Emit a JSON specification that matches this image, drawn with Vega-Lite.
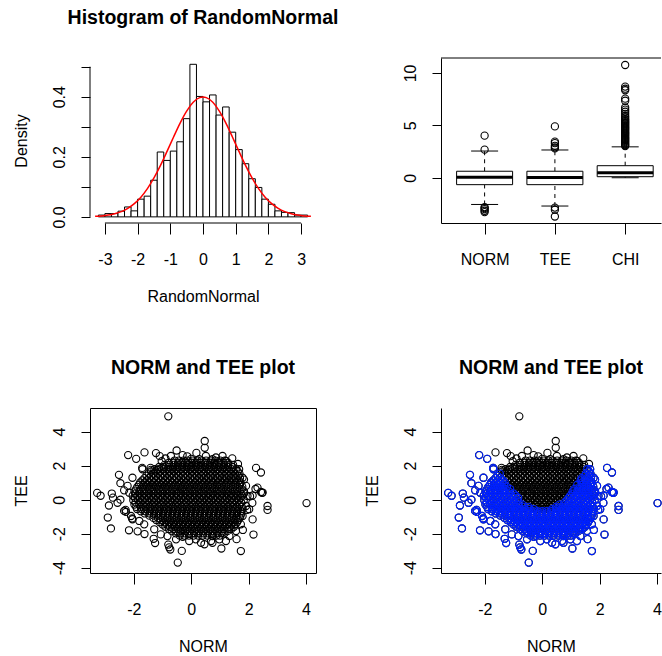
{
"$schema": "https://vega.github.io/schema/vega-lite/v6.json",
"background": "white",
"padding": {"left": 12, "top": 7, "right": 0, "bottom": 0},
"columns": 2,
"bounds": "flush",
"spacing": {"row": 185, "column": 125},
"config": {
 "font": "Liberation Sans",
 "view": {"stroke": null},
 "axis": {"labelFont": "Liberation Sans", "labelFontSize": 16, "labelColor": "#000", "tickColor": "#000", "domainColor": "#000", "titleFont": "Liberation Sans", "titleFontSize": 16, "titleFontWeight": "normal", "titleColor": "#000", "grid": false, "tickWidth": 1, "domainWidth": 1, "labelOverlap": false, "labelFlush": false},
 "axisX": {"tickSize": 11, "labelPadding": 17, "labelAngle": 0, "titleY": 78, "titleBaseline": "alphabetic", "labelOverlap": false},
 "axisY": {"tickSize": 9, "labelPadding": 17, "labelAngle": 270, "labelAlign": "center", "labelBaseline": "alphabetic", "titleX": -69, "titleBaseline": "middle", "titleAngle": 270, "labelOverlap": false},
 "title": {"font": "Liberation Sans", "fontSize": 19.5, "fontWeight": "bold", "color": "#000", "offset": 30, "baseline": "alphabetic", "anchor": "middle", "frame": "group"}
},
"datasets": {
 "hist": [
  {"bin_start": -3.2, "bin_end": -3.0, "density": 0.006},
  {"bin_start": -3.0, "bin_end": -2.8, "density": 0.011},
  {"bin_start": -2.8, "bin_end": -2.6, "density": 0.011},
  {"bin_start": -2.6, "bin_end": -2.4, "density": 0.019},
  {"bin_start": -2.4, "bin_end": -2.2, "density": 0.033},
  {"bin_start": -2.2, "bin_end": -2.0, "density": 0.020},
  {"bin_start": -2.0, "bin_end": -1.8, "density": 0.059},
  {"bin_start": -1.8, "bin_end": -1.6, "density": 0.069},
  {"bin_start": -1.6, "bin_end": -1.4, "density": 0.122},
  {"bin_start": -1.4, "bin_end": -1.2, "density": 0.216},
  {"bin_start": -1.2, "bin_end": -1.0, "density": 0.188},
  {"bin_start": -1.0, "bin_end": -0.8, "density": 0.219},
  {"bin_start": -0.8, "bin_end": -0.6, "density": 0.250},
  {"bin_start": -0.6, "bin_end": -0.4, "density": 0.327},
  {"bin_start": -0.4, "bin_end": -0.2, "density": 0.508},
  {"bin_start": -0.2, "bin_end": 0.0, "density": 0.401},
  {"bin_start": 0.0, "bin_end": 0.2, "density": 0.383},
  {"bin_start": 0.2, "bin_end": 0.4, "density": 0.406},
  {"bin_start": 0.4, "bin_end": 0.6, "density": 0.339},
  {"bin_start": 0.6, "bin_end": 0.8, "density": 0.366},
  {"bin_start": 0.8, "bin_end": 1.0, "density": 0.282},
  {"bin_start": 1.0, "bin_end": 1.2, "density": 0.224},
  {"bin_start": 1.2, "bin_end": 1.4, "density": 0.177},
  {"bin_start": 1.4, "bin_end": 1.6, "density": 0.127},
  {"bin_start": 1.6, "bin_end": 1.8, "density": 0.098},
  {"bin_start": 1.8, "bin_end": 2.0, "density": 0.059},
  {"bin_start": 2.0, "bin_end": 2.2, "density": 0.042},
  {"bin_start": 2.2, "bin_end": 2.4, "density": 0.020},
  {"bin_start": 2.4, "bin_end": 2.6, "density": 0.015},
  {"bin_start": 2.6, "bin_end": 2.8, "density": 0.014},
  {"bin_start": 2.8, "bin_end": 3.0, "density": 0.006},
  {"bin_start": 3.0, "bin_end": 3.2, "density": 0.006}
 ],
 "curve": [
  {"x": -3.3, "density": 0.0017}, {"x": -3.1, "density": 0.0033}, {"x": -2.9, "density": 0.0060}, {"x": -2.7, "density": 0.0104},
  {"x": -2.5, "density": 0.0175}, {"x": -2.3, "density": 0.0283}, {"x": -2.1, "density": 0.0440}, {"x": -1.9, "density": 0.0656},
  {"x": -1.7, "density": 0.0940}, {"x": -1.5, "density": 0.1295}, {"x": -1.3, "density": 0.1714}, {"x": -1.1, "density": 0.2179},
  {"x": -0.9, "density": 0.2661}, {"x": -0.7, "density": 0.3123}, {"x": -0.5, "density": 0.3521}, {"x": -0.3, "density": 0.3814},
  {"x": -0.1, "density": 0.3970}, {"x": 0.0, "density": 0.3989}, {"x": 0.1, "density": 0.3970}, {"x": 0.3, "density": 0.3814},
  {"x": 0.5, "density": 0.3521}, {"x": 0.7, "density": 0.3123}, {"x": 0.9, "density": 0.2661}, {"x": 1.1, "density": 0.2179},
  {"x": 1.3, "density": 0.1714}, {"x": 1.5, "density": 0.1295}, {"x": 1.7, "density": 0.0940}, {"x": 1.9, "density": 0.0656},
  {"x": 2.1, "density": 0.0440}, {"x": 2.3, "density": 0.0283}, {"x": 2.5, "density": 0.0175}, {"x": 2.7, "density": 0.0104},
  {"x": 2.9, "density": 0.0060}, {"x": 3.1, "density": 0.0033}, {"x": 3.3, "density": 0.0017}
 ],
 "boxstats": [
  {"var": "NORM", "lower": -2.55, "q1": -0.66, "median": 0.04, "q3": 0.62, "upper": 2.55},
  {"var": "TEE", "lower": -2.7, "q1": -0.66, "median": 0.03, "q3": 0.62, "upper": 2.65},
  {"var": "CHI", "lower": 0.0, "q1": 0.1, "median": 0.47, "q3": 1.15, "upper": 2.95}
 ],
 "outliers": [
  {"var": "NORM", "value": 4.02}, {"var": "NORM", "value": 2.68}, {"var": "NORM", "value": -2.8}, {"var": "NORM", "value": -2.9},
  {"var": "NORM", "value": -3.0}, {"var": "NORM", "value": -3.15}, {"var": "NORM", "value": -3.28},
  {"var": "TEE", "value": 4.9}, {"var": "TEE", "value": 3.45}, {"var": "TEE", "value": 3.3}, {"var": "TEE", "value": 3.05},
  {"var": "TEE", "value": 2.9}, {"var": "TEE", "value": 2.8}, {"var": "TEE", "value": -2.85}, {"var": "TEE", "value": -3.05}, {"var": "TEE", "value": -3.7},
  {"var": "CHI", "value": 10.76}, {"var": "CHI", "value": 8.7}, {"var": "CHI", "value": 8.5}, {"var": "CHI", "value": 8.35},
  {"var": "CHI", "value": 7.55}, {"var": "CHI", "value": 7.35}, {"var": "CHI", "value": 6.7}, {"var": "CHI", "value": 6.5},
  {"var": "CHI", "value": 6.3}, {"var": "CHI", "value": 6.1}, {"var": "CHI", "value": 5.9}, {"var": "CHI", "value": 5.75},
  {"var": "CHI", "value": 5.6}, {"var": "CHI", "value": 5.5}, {"var": "CHI", "value": 5.4}, {"var": "CHI", "value": 5.3},
  {"var": "CHI", "value": 5.2}, {"var": "CHI", "value": 5.1}, {"var": "CHI", "value": 5.0}, {"var": "CHI", "value": 4.9},
  {"var": "CHI", "value": 4.8}, {"var": "CHI", "value": 4.7}, {"var": "CHI", "value": 4.6}, {"var": "CHI", "value": 4.5},
  {"var": "CHI", "value": 4.4}, {"var": "CHI", "value": 4.3}, {"var": "CHI", "value": 4.2}, {"var": "CHI", "value": 4.1},
  {"var": "CHI", "value": 4.0}, {"var": "CHI", "value": 3.9}, {"var": "CHI", "value": 3.8}, {"var": "CHI", "value": 3.7},
  {"var": "CHI", "value": 3.6}, {"var": "CHI", "value": 3.5}, {"var": "CHI", "value": 3.4}, {"var": "CHI", "value": 3.3},
  {"var": "CHI", "value": 3.2}, {"var": "CHI", "value": 3.1}, {"var": "CHI", "value": 3.02}
 ],
 "scatter": [
  {"NORM":-0.80,"TEE":4.90},{"NORM":0.47,"TEE":3.45},{"NORM":0.47,"TEE":3.05},{"NORM":-2.20,"TEE":2.62},{"NORM":-1.92,"TEE":2.40},
  {"NORM":-1.63,"TEE":2.78},{"NORM":-1.23,"TEE":2.74},{"NORM":-1.10,"TEE":2.56},{"NORM":-1.03,"TEE":2.26},{"NORM":-0.71,"TEE":2.57},
  {"NORM":-0.51,"TEE":2.89},{"NORM":0.18,"TEE":2.75},{"NORM":0.86,"TEE":2.48},{"NORM":1.43,"TEE":2.43},{"NORM":1.63,"TEE":2.10},
  {"NORM":2.26,"TEE":1.87},{"NORM":2.43,"TEE":1.60},{"NORM":-2.52,"TEE":1.46},{"NORM":-2.47,"TEE":0.97},{"NORM":-3.28,"TEE":0.40},
  {"NORM":-3.16,"TEE":0.23},{"NORM":-2.77,"TEE":0.36},{"NORM":-2.73,"TEE":0.12},{"NORM":-2.87,"TEE":-0.34},{"NORM":-2.91,"TEE":-1.05},
  {"NORM":-2.80,"TEE":-1.69},{"NORM":-2.17,"TEE":-1.80},{"NORM":-1.87,"TEE":-1.86},{"NORM":-1.63,"TEE":-2.02},{"NORM":-1.31,"TEE":-2.30},
  {"NORM":-1.26,"TEE":-2.55},{"NORM":-0.80,"TEE":-2.64},{"NORM":-0.73,"TEE":-2.93},{"NORM":-0.77,"TEE":-2.80},{"NORM":-0.33,"TEE":-3.01},
  {"NORM":-0.47,"TEE":-3.70},{"NORM":0.46,"TEE":-2.62},{"NORM":0.74,"TEE":-2.53},{"NORM":0.74,"TEE":-2.14},{"NORM":1.05,"TEE":-2.87},
  {"NORM":1.21,"TEE":-2.43},{"NORM":1.58,"TEE":-2.32},{"NORM":1.73,"TEE":-3.02},{"NORM":1.80,"TEE":-1.78},{"NORM":2.17,"TEE":-2.05},
  {"NORM":2.14,"TEE":-1.16},{"NORM":2.66,"TEE":-0.37},{"NORM":2.66,"TEE":-0.60},{"NORM":2.43,"TEE":0.45},{"NORM":2.49,"TEE":0.42},
  {"NORM":2.47,"TEE":0.40},{"NORM":2.31,"TEE":0.71},{"NORM":2.24,"TEE":0.63},{"NORM":2.14,"TEE":0.25},{"NORM":2.05,"TEE":0.20},
  {"NORM":2.13,"TEE":-0.19},{"NORM":2.02,"TEE":-0.56},{"NORM":1.95,"TEE":-0.60},{"NORM":4.02,"TEE":-0.20},{"NORM":-2.47,"TEE":0.00},
  {"NORM":-2.29,"TEE":-0.60},{"NORM":-2.06,"TEE":-1.10},{"NORM":-1.71,"TEE":1.87},{"NORM":-1.42,"TEE":1.87},{"NORM":-1.19,"TEE":1.76},
  {"NORM":-0.14,"TEE":2.55},{"NORM":1.84,"TEE":1.18},{"NORM":-2.34,"TEE":0.55},{"NORM":-2.28,"TEE":-0.72},{"NORM":-2.05,"TEE":-1.15},
  {"NORM":-1.70,"TEE":1.79},{"NORM":-1.41,"TEE":1.75},{"NORM":-2.05,"TEE":1.29},{"NORM":-2.22,"TEE":0.81},{"NORM":-2.16,"TEE":0.41},
  {"NORM":-2.57,"TEE":-0.18},{"NORM":-2.34,"TEE":-0.66},{"NORM":-2.10,"TEE":-0.96},{"NORM":-1.81,"TEE":-1.25},{"NORM":-1.64,"TEE":-1.45},
  {"NORM":-1.29,"TEE":-1.74},{"NORM":-1.06,"TEE":-2.04},{"NORM":-0.83,"TEE":-2.14},{"NORM":-0.53,"TEE":-2.33},{"NORM":-0.30,"TEE":-2.18},
  {"NORM":-0.07,"TEE":-2.43},{"NORM":0.16,"TEE":-2.33},{"NORM":1.09,"TEE":2.57},{"NORM":1.21,"TEE":2.28},{"NORM":1.67,"TEE":1.79},
  {"NORM":1.79,"TEE":1.29},{"NORM":1.91,"TEE":0.81},{"NORM":1.96,"TEE":0.22},{"NORM":1.91,"TEE":-0.37},{"NORM":1.79,"TEE":-0.96},
  {"NORM":1.73,"TEE":-1.45},{"NORM":1.56,"TEE":-1.84},{"NORM":1.33,"TEE":-2.14},{"NORM":0.98,"TEE":-2.33},{"NORM":0.69,"TEE":-2.43},
  {"NORM":0.34,"TEE":-2.53},{"NORM":0.51,"TEE":2.57},{"NORM":0.74,"TEE":2.38},{"NORM":0.28,"TEE":2.38},{"NORM":-0.30,"TEE":2.62},
  {"NORM":-0.90,"TEE":2.42},{"NORM":0.00,"TEE":2.40},
  {"NORM":-0.58,"TEE":2.30},{"NORM":-0.43,"TEE":2.30},{"NORM":-0.27,"TEE":2.30},{"NORM":-0.12,"TEE":2.30},{"NORM":0.05,"TEE":2.30},{"NORM":0.21,"TEE":2.30},{"NORM":0.36,"TEE":2.30},{"NORM":0.52,"TEE":2.30},{"NORM":0.69,"TEE":2.30},{"NORM":0.84,"TEE":2.30},{"NORM":1.01,"TEE":2.30},{"NORM":1.17,"TEE":2.30},
  {"NORM":-0.78,"TEE":2.17},{"NORM":-0.62,"TEE":2.17},{"NORM":-0.46,"TEE":2.17},{"NORM":-0.31,"TEE":2.17},{"NORM":-0.15,"TEE":2.17},{"NORM":0.01,"TEE":2.17},{"NORM":0.17,"TEE":2.17},{"NORM":0.33,"TEE":2.17},{"NORM":0.49,"TEE":2.17},{"NORM":0.65,"TEE":2.17},{"NORM":0.80,"TEE":2.17},{"NORM":0.96,"TEE":2.17},{"NORM":1.12,"TEE":2.17},{"NORM":1.28,"TEE":2.17},
  {"NORM":-0.93,"TEE":2.05},{"NORM":-0.78,"TEE":2.05},{"NORM":-0.61,"TEE":2.05},{"NORM":-0.46,"TEE":2.05},{"NORM":-0.30,"TEE":2.05},{"NORM":-0.13,"TEE":2.05},{"NORM":0.02,"TEE":2.05},{"NORM":0.18,"TEE":2.05},{"NORM":0.34,"TEE":2.05},{"NORM":0.50,"TEE":2.05},{"NORM":0.65,"TEE":2.05},{"NORM":0.82,"TEE":2.05},{"NORM":0.97,"TEE":2.05},{"NORM":1.14,"TEE":2.05},{"NORM":1.29,"TEE":2.05},{"NORM":1.46,"TEE":2.05},
  {"NORM":-1.12,"TEE":1.92},{"NORM":-0.96,"TEE":1.92},{"NORM":-0.80,"TEE":1.92},{"NORM":-0.64,"TEE":1.92},{"NORM":-0.48,"TEE":1.92},{"NORM":-0.32,"TEE":1.92},{"NORM":-0.16,"TEE":1.92},{"NORM":0.00,"TEE":1.92},{"NORM":0.16,"TEE":1.92},{"NORM":0.32,"TEE":1.92},{"NORM":0.48,"TEE":1.92},{"NORM":0.64,"TEE":1.92},{"NORM":0.80,"TEE":1.92},{"NORM":0.96,"TEE":1.92},{"NORM":1.12,"TEE":1.92},{"NORM":1.28,"TEE":1.92},{"NORM":1.44,"TEE":1.92},
  {"NORM":-1.28,"TEE":1.79},{"NORM":-1.12,"TEE":1.79},{"NORM":-0.96,"TEE":1.79},{"NORM":-0.80,"TEE":1.79},{"NORM":-0.64,"TEE":1.79},{"NORM":-0.49,"TEE":1.79},{"NORM":-0.33,"TEE":1.79},{"NORM":-0.17,"TEE":1.79},{"NORM":-0.01,"TEE":1.79},{"NORM":0.14,"TEE":1.79},{"NORM":0.30,"TEE":1.79},{"NORM":0.46,"TEE":1.79},{"NORM":0.62,"TEE":1.79},{"NORM":0.78,"TEE":1.79},{"NORM":0.93,"TEE":1.79},{"NORM":1.10,"TEE":1.79},{"NORM":1.25,"TEE":1.79},{"NORM":1.41,"TEE":1.79},{"NORM":1.57,"TEE":1.79},
  {"NORM":-1.40,"TEE":1.66},{"NORM":-1.24,"TEE":1.66},{"NORM":-1.08,"TEE":1.66},{"NORM":-0.92,"TEE":1.66},{"NORM":-0.76,"TEE":1.66},{"NORM":-0.60,"TEE":1.66},{"NORM":-0.44,"TEE":1.66},{"NORM":-0.28,"TEE":1.66},{"NORM":-0.12,"TEE":1.66},{"NORM":0.04,"TEE":1.66},{"NORM":0.20,"TEE":1.66},{"NORM":0.36,"TEE":1.66},{"NORM":0.52,"TEE":1.66},{"NORM":0.68,"TEE":1.66},{"NORM":0.84,"TEE":1.66},{"NORM":1.00,"TEE":1.66},{"NORM":1.16,"TEE":1.66},{"NORM":1.32,"TEE":1.66},{"NORM":1.48,"TEE":1.66},{"NORM":1.62,"TEE":1.66},
  {"NORM":-1.48,"TEE":1.53},{"NORM":-1.32,"TEE":1.53},{"NORM":-1.17,"TEE":1.53},{"NORM":-1.01,"TEE":1.53},{"NORM":-0.85,"TEE":1.53},{"NORM":-0.70,"TEE":1.53},{"NORM":-0.53,"TEE":1.53},{"NORM":-0.38,"TEE":1.53},{"NORM":-0.22,"TEE":1.53},{"NORM":-0.06,"TEE":1.53},{"NORM":0.10,"TEE":1.53},{"NORM":0.25,"TEE":1.53},{"NORM":0.41,"TEE":1.53},{"NORM":0.57,"TEE":1.53},{"NORM":0.73,"TEE":1.53},{"NORM":0.88,"TEE":1.53},{"NORM":1.05,"TEE":1.53},{"NORM":1.20,"TEE":1.53},{"NORM":1.36,"TEE":1.53},{"NORM":1.52,"TEE":1.53},{"NORM":1.68,"TEE":1.53},
  {"NORM":-1.56,"TEE":1.40},{"NORM":-1.40,"TEE":1.40},{"NORM":-1.24,"TEE":1.40},{"NORM":-1.08,"TEE":1.40},{"NORM":-0.92,"TEE":1.40},{"NORM":-0.76,"TEE":1.40},{"NORM":-0.60,"TEE":1.40},{"NORM":-0.44,"TEE":1.40},{"NORM":-0.28,"TEE":1.40},{"NORM":-0.12,"TEE":1.40},{"NORM":0.04,"TEE":1.40},{"NORM":0.20,"TEE":1.40},{"NORM":0.36,"TEE":1.40},{"NORM":0.52,"TEE":1.40},{"NORM":0.68,"TEE":1.40},{"NORM":0.84,"TEE":1.40},{"NORM":1.00,"TEE":1.40},{"NORM":1.16,"TEE":1.40},{"NORM":1.32,"TEE":1.40},{"NORM":1.48,"TEE":1.40},{"NORM":1.64,"TEE":1.40},
  {"NORM":-1.63,"TEE":1.27},{"NORM":-1.47,"TEE":1.27},{"NORM":-1.30,"TEE":1.27},{"NORM":-1.15,"TEE":1.27},{"NORM":-0.99,"TEE":1.27},{"NORM":-0.83,"TEE":1.27},{"NORM":-0.67,"TEE":1.27},{"NORM":-0.51,"TEE":1.27},{"NORM":-0.36,"TEE":1.27},{"NORM":-0.20,"TEE":1.27},{"NORM":-0.04,"TEE":1.27},{"NORM":0.12,"TEE":1.27},{"NORM":0.27,"TEE":1.27},{"NORM":0.44,"TEE":1.27},{"NORM":0.59,"TEE":1.27},{"NORM":0.75,"TEE":1.27},{"NORM":0.91,"TEE":1.27},{"NORM":1.07,"TEE":1.27},{"NORM":1.22,"TEE":1.27},{"NORM":1.38,"TEE":1.27},{"NORM":1.54,"TEE":1.27},{"NORM":1.70,"TEE":1.27},
  {"NORM":-1.70,"TEE":1.14},{"NORM":-1.54,"TEE":1.14},{"NORM":-1.38,"TEE":1.14},{"NORM":-1.22,"TEE":1.14},{"NORM":-1.06,"TEE":1.14},{"NORM":-0.90,"TEE":1.14},{"NORM":-0.74,"TEE":1.14},{"NORM":-0.58,"TEE":1.14},{"NORM":-0.42,"TEE":1.14},{"NORM":-0.26,"TEE":1.14},{"NORM":-0.10,"TEE":1.14},{"NORM":0.06,"TEE":1.14},{"NORM":0.22,"TEE":1.14},{"NORM":0.38,"TEE":1.14},{"NORM":0.54,"TEE":1.14},{"NORM":0.70,"TEE":1.14},{"NORM":0.86,"TEE":1.14},{"NORM":1.02,"TEE":1.14},{"NORM":1.18,"TEE":1.14},{"NORM":1.34,"TEE":1.14},{"NORM":1.50,"TEE":1.14},{"NORM":1.66,"TEE":1.14},
  {"NORM":-1.78,"TEE":1.01},{"NORM":-1.62,"TEE":1.01},{"NORM":-1.46,"TEE":1.01},{"NORM":-1.31,"TEE":1.01},{"NORM":-1.14,"TEE":1.01},{"NORM":-0.98,"TEE":1.01},{"NORM":-0.82,"TEE":1.01},{"NORM":-0.67,"TEE":1.01},{"NORM":-0.50,"TEE":1.01},{"NORM":-0.35,"TEE":1.01},{"NORM":-0.19,"TEE":1.01},{"NORM":-0.03,"TEE":1.01},{"NORM":0.13,"TEE":1.01},{"NORM":0.29,"TEE":1.01},{"NORM":0.45,"TEE":1.01},{"NORM":0.60,"TEE":1.01},{"NORM":0.76,"TEE":1.01},{"NORM":0.92,"TEE":1.01},{"NORM":1.08,"TEE":1.01},{"NORM":1.24,"TEE":1.01},{"NORM":1.39,"TEE":1.01},{"NORM":1.55,"TEE":1.01},{"NORM":1.71,"TEE":1.01},
  {"NORM":-1.82,"TEE":0.88},{"NORM":-1.66,"TEE":0.88},{"NORM":-1.50,"TEE":0.88},{"NORM":-1.34,"TEE":0.88},{"NORM":-1.18,"TEE":0.88},{"NORM":-1.02,"TEE":0.88},{"NORM":-0.86,"TEE":0.88},{"NORM":-0.70,"TEE":0.88},{"NORM":-0.54,"TEE":0.88},{"NORM":-0.38,"TEE":0.88},{"NORM":-0.22,"TEE":0.88},{"NORM":-0.06,"TEE":0.88},{"NORM":0.10,"TEE":0.88},{"NORM":0.26,"TEE":0.88},{"NORM":0.42,"TEE":0.88},{"NORM":0.58,"TEE":0.88},{"NORM":0.74,"TEE":0.88},{"NORM":0.90,"TEE":0.88},{"NORM":1.06,"TEE":0.88},{"NORM":1.22,"TEE":0.88},{"NORM":1.38,"TEE":0.88},{"NORM":1.54,"TEE":0.88},{"NORM":1.70,"TEE":0.88},
  {"NORM":-1.88,"TEE":0.75},{"NORM":-1.71,"TEE":0.75},{"NORM":-1.55,"TEE":0.75},{"NORM":-1.39,"TEE":0.75},{"NORM":-1.23,"TEE":0.75},{"NORM":-1.07,"TEE":0.75},{"NORM":-0.91,"TEE":0.75},{"NORM":-0.76,"TEE":0.75},{"NORM":-0.59,"TEE":0.75},{"NORM":-0.44,"TEE":0.75},{"NORM":-0.28,"TEE":0.75},{"NORM":-0.12,"TEE":0.75},{"NORM":0.04,"TEE":0.75},{"NORM":0.20,"TEE":0.75},{"NORM":0.35,"TEE":0.75},{"NORM":0.51,"TEE":0.75},{"NORM":0.67,"TEE":0.75},{"NORM":0.83,"TEE":0.75},{"NORM":0.99,"TEE":0.75},{"NORM":1.15,"TEE":0.75},{"NORM":1.30,"TEE":0.75},{"NORM":1.46,"TEE":0.75},{"NORM":1.62,"TEE":0.75},{"NORM":1.78,"TEE":0.75},
  {"NORM":-1.92,"TEE":0.62},{"NORM":-1.76,"TEE":0.62},{"NORM":-1.60,"TEE":0.62},{"NORM":-1.44,"TEE":0.62},{"NORM":-1.28,"TEE":0.62},{"NORM":-1.12,"TEE":0.62},{"NORM":-0.96,"TEE":0.62},{"NORM":-0.80,"TEE":0.62},{"NORM":-0.64,"TEE":0.62},{"NORM":-0.48,"TEE":0.62},{"NORM":-0.32,"TEE":0.62},{"NORM":-0.16,"TEE":0.62},{"NORM":0.00,"TEE":0.62},{"NORM":0.16,"TEE":0.62},{"NORM":0.32,"TEE":0.62},{"NORM":0.48,"TEE":0.62},{"NORM":0.64,"TEE":0.62},{"NORM":0.80,"TEE":0.62},{"NORM":0.96,"TEE":0.62},{"NORM":1.12,"TEE":0.62},{"NORM":1.28,"TEE":0.62},{"NORM":1.44,"TEE":0.62},{"NORM":1.60,"TEE":0.62},{"NORM":1.76,"TEE":0.62},
  {"NORM":-1.98,"TEE":0.49},{"NORM":-1.81,"TEE":0.49},{"NORM":-1.64,"TEE":0.49},{"NORM":-1.48,"TEE":0.49},{"NORM":-1.32,"TEE":0.49},{"NORM":-1.16,"TEE":0.49},{"NORM":-1.00,"TEE":0.49},{"NORM":-0.84,"TEE":0.49},{"NORM":-0.68,"TEE":0.49},{"NORM":-0.52,"TEE":0.49},{"NORM":-0.37,"TEE":0.49},{"NORM":-0.21,"TEE":0.49},{"NORM":-0.05,"TEE":0.49},{"NORM":0.11,"TEE":0.49},{"NORM":0.27,"TEE":0.49},{"NORM":0.43,"TEE":0.49},{"NORM":0.58,"TEE":0.49},{"NORM":0.74,"TEE":0.49},{"NORM":0.90,"TEE":0.49},{"NORM":1.06,"TEE":0.49},{"NORM":1.22,"TEE":0.49},{"NORM":1.37,"TEE":0.49},{"NORM":1.53,"TEE":0.49},{"NORM":1.69,"TEE":0.49},{"NORM":1.84,"TEE":0.49},
  {"NORM":-1.96,"TEE":0.36},{"NORM":-1.80,"TEE":0.36},{"NORM":-1.64,"TEE":0.36},{"NORM":-1.48,"TEE":0.36},{"NORM":-1.32,"TEE":0.36},{"NORM":-1.16,"TEE":0.36},{"NORM":-1.00,"TEE":0.36},{"NORM":-0.84,"TEE":0.36},{"NORM":-0.68,"TEE":0.36},{"NORM":-0.52,"TEE":0.36},{"NORM":-0.36,"TEE":0.36},{"NORM":-0.20,"TEE":0.36},{"NORM":-0.04,"TEE":0.36},{"NORM":0.12,"TEE":0.36},{"NORM":0.28,"TEE":0.36},{"NORM":0.44,"TEE":0.36},{"NORM":0.60,"TEE":0.36},{"NORM":0.76,"TEE":0.36},{"NORM":0.92,"TEE":0.36},{"NORM":1.08,"TEE":0.36},{"NORM":1.24,"TEE":0.36},{"NORM":1.40,"TEE":0.36},{"NORM":1.56,"TEE":0.36},{"NORM":1.72,"TEE":0.36},{"NORM":1.84,"TEE":0.36},
  {"NORM":-2.04,"TEE":0.23},{"NORM":-1.88,"TEE":0.23},{"NORM":-1.72,"TEE":0.23},{"NORM":-1.56,"TEE":0.23},{"NORM":-1.40,"TEE":0.23},{"NORM":-1.24,"TEE":0.23},{"NORM":-1.08,"TEE":0.23},{"NORM":-0.92,"TEE":0.23},{"NORM":-0.76,"TEE":0.23},{"NORM":-0.60,"TEE":0.23},{"NORM":-0.45,"TEE":0.23},{"NORM":-0.29,"TEE":0.23},{"NORM":-0.13,"TEE":0.23},{"NORM":0.03,"TEE":0.23},{"NORM":0.19,"TEE":0.23},{"NORM":0.35,"TEE":0.23},{"NORM":0.51,"TEE":0.23},{"NORM":0.66,"TEE":0.23},{"NORM":0.82,"TEE":0.23},{"NORM":0.98,"TEE":0.23},{"NORM":1.14,"TEE":0.23},{"NORM":1.30,"TEE":0.23},{"NORM":1.45,"TEE":0.23},{"NORM":1.61,"TEE":0.23},{"NORM":1.77,"TEE":0.23},
  {"NORM":-1.96,"TEE":0.10},{"NORM":-1.80,"TEE":0.10},{"NORM":-1.64,"TEE":0.10},{"NORM":-1.48,"TEE":0.10},{"NORM":-1.32,"TEE":0.10},{"NORM":-1.16,"TEE":0.10},{"NORM":-1.00,"TEE":0.10},{"NORM":-0.84,"TEE":0.10},{"NORM":-0.68,"TEE":0.10},{"NORM":-0.52,"TEE":0.10},{"NORM":-0.36,"TEE":0.10},{"NORM":-0.20,"TEE":0.10},{"NORM":-0.04,"TEE":0.10},{"NORM":0.12,"TEE":0.10},{"NORM":0.28,"TEE":0.10},{"NORM":0.44,"TEE":0.10},{"NORM":0.60,"TEE":0.10},{"NORM":0.76,"TEE":0.10},{"NORM":0.92,"TEE":0.10},{"NORM":1.08,"TEE":0.10},{"NORM":1.24,"TEE":0.10},{"NORM":1.40,"TEE":0.10},{"NORM":1.56,"TEE":0.10},{"NORM":1.72,"TEE":0.10},
  {"NORM":-2.02,"TEE":-0.03},{"NORM":-1.85,"TEE":-0.03},{"NORM":-1.69,"TEE":-0.03},{"NORM":-1.53,"TEE":-0.03},{"NORM":-1.37,"TEE":-0.03},{"NORM":-1.21,"TEE":-0.03},{"NORM":-1.05,"TEE":-0.03},{"NORM":-0.89,"TEE":-0.03},{"NORM":-0.73,"TEE":-0.03},{"NORM":-0.57,"TEE":-0.03},{"NORM":-0.41,"TEE":-0.03},{"NORM":-0.25,"TEE":-0.03},{"NORM":-0.09,"TEE":-0.03},{"NORM":0.07,"TEE":-0.03},{"NORM":0.23,"TEE":-0.03},{"NORM":0.39,"TEE":-0.03},{"NORM":0.55,"TEE":-0.03},{"NORM":0.70,"TEE":-0.03},{"NORM":0.86,"TEE":-0.03},{"NORM":1.02,"TEE":-0.03},{"NORM":1.18,"TEE":-0.03},{"NORM":1.34,"TEE":-0.03},{"NORM":1.50,"TEE":-0.03},{"NORM":1.66,"TEE":-0.03},{"NORM":1.83,"TEE":-0.03},
  {"NORM":-1.94,"TEE":-0.16},{"NORM":-1.78,"TEE":-0.16},{"NORM":-1.62,"TEE":-0.16},{"NORM":-1.46,"TEE":-0.16},{"NORM":-1.30,"TEE":-0.16},{"NORM":-1.14,"TEE":-0.16},{"NORM":-0.98,"TEE":-0.16},{"NORM":-0.82,"TEE":-0.16},{"NORM":-0.66,"TEE":-0.16},{"NORM":-0.50,"TEE":-0.16},{"NORM":-0.34,"TEE":-0.16},{"NORM":-0.18,"TEE":-0.16},{"NORM":-0.02,"TEE":-0.16},{"NORM":0.14,"TEE":-0.16},{"NORM":0.30,"TEE":-0.16},{"NORM":0.46,"TEE":-0.16},{"NORM":0.62,"TEE":-0.16},{"NORM":0.78,"TEE":-0.16},{"NORM":0.94,"TEE":-0.16},{"NORM":1.10,"TEE":-0.16},{"NORM":1.26,"TEE":-0.16},{"NORM":1.42,"TEE":-0.16},{"NORM":1.58,"TEE":-0.16},{"NORM":1.74,"TEE":-0.16},
  {"NORM":-1.98,"TEE":-0.29},{"NORM":-1.81,"TEE":-0.29},{"NORM":-1.65,"TEE":-0.29},{"NORM":-1.49,"TEE":-0.29},{"NORM":-1.33,"TEE":-0.29},{"NORM":-1.17,"TEE":-0.29},{"NORM":-1.01,"TEE":-0.29},{"NORM":-0.85,"TEE":-0.29},{"NORM":-0.69,"TEE":-0.29},{"NORM":-0.53,"TEE":-0.29},{"NORM":-0.37,"TEE":-0.29},{"NORM":-0.21,"TEE":-0.29},{"NORM":-0.05,"TEE":-0.29},{"NORM":0.11,"TEE":-0.29},{"NORM":0.27,"TEE":-0.29},{"NORM":0.43,"TEE":-0.29},{"NORM":0.59,"TEE":-0.29},{"NORM":0.75,"TEE":-0.29},{"NORM":0.91,"TEE":-0.29},{"NORM":1.07,"TEE":-0.29},{"NORM":1.23,"TEE":-0.29},{"NORM":1.38,"TEE":-0.29},{"NORM":1.54,"TEE":-0.29},{"NORM":1.70,"TEE":-0.29},
  {"NORM":-1.92,"TEE":-0.42},{"NORM":-1.76,"TEE":-0.42},{"NORM":-1.60,"TEE":-0.42},{"NORM":-1.44,"TEE":-0.42},{"NORM":-1.28,"TEE":-0.42},{"NORM":-1.12,"TEE":-0.42},{"NORM":-0.96,"TEE":-0.42},{"NORM":-0.80,"TEE":-0.42},{"NORM":-0.64,"TEE":-0.42},{"NORM":-0.48,"TEE":-0.42},{"NORM":-0.32,"TEE":-0.42},{"NORM":-0.16,"TEE":-0.42},{"NORM":0.00,"TEE":-0.42},{"NORM":0.16,"TEE":-0.42},{"NORM":0.32,"TEE":-0.42},{"NORM":0.48,"TEE":-0.42},{"NORM":0.64,"TEE":-0.42},{"NORM":0.80,"TEE":-0.42},{"NORM":0.96,"TEE":-0.42},{"NORM":1.12,"TEE":-0.42},{"NORM":1.28,"TEE":-0.42},{"NORM":1.44,"TEE":-0.42},{"NORM":1.60,"TEE":-0.42},{"NORM":1.76,"TEE":-0.42},
  {"NORM":-1.89,"TEE":-0.55},{"NORM":-1.73,"TEE":-0.55},{"NORM":-1.57,"TEE":-0.55},{"NORM":-1.41,"TEE":-0.55},{"NORM":-1.25,"TEE":-0.55},{"NORM":-1.09,"TEE":-0.55},{"NORM":-0.93,"TEE":-0.55},{"NORM":-0.77,"TEE":-0.55},{"NORM":-0.61,"TEE":-0.55},{"NORM":-0.45,"TEE":-0.55},{"NORM":-0.29,"TEE":-0.55},{"NORM":-0.13,"TEE":-0.55},{"NORM":0.03,"TEE":-0.55},{"NORM":0.19,"TEE":-0.55},{"NORM":0.35,"TEE":-0.55},{"NORM":0.51,"TEE":-0.55},{"NORM":0.67,"TEE":-0.55},{"NORM":0.83,"TEE":-0.55},{"NORM":0.99,"TEE":-0.55},{"NORM":1.15,"TEE":-0.55},{"NORM":1.31,"TEE":-0.55},{"NORM":1.47,"TEE":-0.55},{"NORM":1.63,"TEE":-0.55},{"NORM":1.79,"TEE":-0.55},
  {"NORM":-1.76,"TEE":-0.68},{"NORM":-1.60,"TEE":-0.68},{"NORM":-1.44,"TEE":-0.68},{"NORM":-1.28,"TEE":-0.68},{"NORM":-1.12,"TEE":-0.68},{"NORM":-0.96,"TEE":-0.68},{"NORM":-0.80,"TEE":-0.68},{"NORM":-0.64,"TEE":-0.68},{"NORM":-0.48,"TEE":-0.68},{"NORM":-0.32,"TEE":-0.68},{"NORM":-0.16,"TEE":-0.68},{"NORM":0.00,"TEE":-0.68},{"NORM":0.16,"TEE":-0.68},{"NORM":0.32,"TEE":-0.68},{"NORM":0.48,"TEE":-0.68},{"NORM":0.64,"TEE":-0.68},{"NORM":0.80,"TEE":-0.68},{"NORM":0.96,"TEE":-0.68},{"NORM":1.12,"TEE":-0.68},{"NORM":1.28,"TEE":-0.68},{"NORM":1.44,"TEE":-0.68},{"NORM":1.60,"TEE":-0.68},{"NORM":1.74,"TEE":-0.68},
  {"NORM":-1.62,"TEE":-0.81},{"NORM":-1.46,"TEE":-0.81},{"NORM":-1.30,"TEE":-0.81},{"NORM":-1.14,"TEE":-0.81},{"NORM":-0.98,"TEE":-0.81},{"NORM":-0.82,"TEE":-0.81},{"NORM":-0.66,"TEE":-0.81},{"NORM":-0.50,"TEE":-0.81},{"NORM":-0.34,"TEE":-0.81},{"NORM":-0.18,"TEE":-0.81},{"NORM":-0.02,"TEE":-0.81},{"NORM":0.14,"TEE":-0.81},{"NORM":0.30,"TEE":-0.81},{"NORM":0.46,"TEE":-0.81},{"NORM":0.62,"TEE":-0.81},{"NORM":0.78,"TEE":-0.81},{"NORM":0.94,"TEE":-0.81},{"NORM":1.10,"TEE":-0.81},{"NORM":1.26,"TEE":-0.81},{"NORM":1.42,"TEE":-0.81},{"NORM":1.58,"TEE":-0.81},{"NORM":1.74,"TEE":-0.81},
  {"NORM":-1.46,"TEE":-0.94},{"NORM":-1.30,"TEE":-0.94},{"NORM":-1.14,"TEE":-0.94},{"NORM":-0.98,"TEE":-0.94},{"NORM":-0.82,"TEE":-0.94},{"NORM":-0.66,"TEE":-0.94},{"NORM":-0.50,"TEE":-0.94},{"NORM":-0.34,"TEE":-0.94},{"NORM":-0.18,"TEE":-0.94},{"NORM":-0.02,"TEE":-0.94},{"NORM":0.14,"TEE":-0.94},{"NORM":0.30,"TEE":-0.94},{"NORM":0.46,"TEE":-0.94},{"NORM":0.62,"TEE":-0.94},{"NORM":0.78,"TEE":-0.94},{"NORM":0.94,"TEE":-0.94},{"NORM":1.10,"TEE":-0.94},{"NORM":1.26,"TEE":-0.94},{"NORM":1.42,"TEE":-0.94},{"NORM":1.58,"TEE":-0.94},{"NORM":1.72,"TEE":-0.94},
  {"NORM":-1.32,"TEE":-1.07},{"NORM":-1.16,"TEE":-1.07},{"NORM":-1.00,"TEE":-1.07},{"NORM":-0.84,"TEE":-1.07},{"NORM":-0.68,"TEE":-1.07},{"NORM":-0.52,"TEE":-1.07},{"NORM":-0.36,"TEE":-1.07},{"NORM":-0.20,"TEE":-1.07},{"NORM":-0.04,"TEE":-1.07},{"NORM":0.12,"TEE":-1.07},{"NORM":0.28,"TEE":-1.07},{"NORM":0.44,"TEE":-1.07},{"NORM":0.60,"TEE":-1.07},{"NORM":0.76,"TEE":-1.07},{"NORM":0.92,"TEE":-1.07},{"NORM":1.08,"TEE":-1.07},{"NORM":1.24,"TEE":-1.07},{"NORM":1.40,"TEE":-1.07},{"NORM":1.56,"TEE":-1.07},{"NORM":1.69,"TEE":-1.07},
  {"NORM":-1.22,"TEE":-1.20},{"NORM":-1.06,"TEE":-1.20},{"NORM":-0.90,"TEE":-1.20},{"NORM":-0.74,"TEE":-1.20},{"NORM":-0.58,"TEE":-1.20},{"NORM":-0.42,"TEE":-1.20},{"NORM":-0.26,"TEE":-1.20},{"NORM":-0.10,"TEE":-1.20},{"NORM":0.06,"TEE":-1.20},{"NORM":0.22,"TEE":-1.20},{"NORM":0.38,"TEE":-1.20},{"NORM":0.54,"TEE":-1.20},{"NORM":0.70,"TEE":-1.20},{"NORM":0.86,"TEE":-1.20},{"NORM":1.02,"TEE":-1.20},{"NORM":1.18,"TEE":-1.20},{"NORM":1.34,"TEE":-1.20},{"NORM":1.50,"TEE":-1.20},{"NORM":1.64,"TEE":-1.20},
  {"NORM":-1.10,"TEE":-1.33},{"NORM":-0.94,"TEE":-1.33},{"NORM":-0.78,"TEE":-1.33},{"NORM":-0.62,"TEE":-1.33},{"NORM":-0.46,"TEE":-1.33},{"NORM":-0.30,"TEE":-1.33},{"NORM":-0.14,"TEE":-1.33},{"NORM":0.02,"TEE":-1.33},{"NORM":0.18,"TEE":-1.33},{"NORM":0.34,"TEE":-1.33},{"NORM":0.50,"TEE":-1.33},{"NORM":0.66,"TEE":-1.33},{"NORM":0.82,"TEE":-1.33},{"NORM":0.98,"TEE":-1.33},{"NORM":1.14,"TEE":-1.33},{"NORM":1.30,"TEE":-1.33},{"NORM":1.46,"TEE":-1.33},{"NORM":1.60,"TEE":-1.33},
  {"NORM":-1.00,"TEE":-1.46},{"NORM":-0.84,"TEE":-1.46},{"NORM":-0.68,"TEE":-1.46},{"NORM":-0.52,"TEE":-1.46},{"NORM":-0.36,"TEE":-1.46},{"NORM":-0.20,"TEE":-1.46},{"NORM":-0.04,"TEE":-1.46},{"NORM":0.12,"TEE":-1.46},{"NORM":0.28,"TEE":-1.46},{"NORM":0.44,"TEE":-1.46},{"NORM":0.60,"TEE":-1.46},{"NORM":0.76,"TEE":-1.46},{"NORM":0.92,"TEE":-1.46},{"NORM":1.08,"TEE":-1.46},{"NORM":1.24,"TEE":-1.46},{"NORM":1.40,"TEE":-1.46},{"NORM":1.54,"TEE":-1.46},
  {"NORM":-0.90,"TEE":-1.59},{"NORM":-0.74,"TEE":-1.59},{"NORM":-0.58,"TEE":-1.59},{"NORM":-0.42,"TEE":-1.59},{"NORM":-0.26,"TEE":-1.59},{"NORM":-0.10,"TEE":-1.59},{"NORM":0.06,"TEE":-1.59},{"NORM":0.22,"TEE":-1.59},{"NORM":0.38,"TEE":-1.59},{"NORM":0.54,"TEE":-1.59},{"NORM":0.70,"TEE":-1.59},{"NORM":0.86,"TEE":-1.59},{"NORM":1.02,"TEE":-1.59},{"NORM":1.18,"TEE":-1.59},{"NORM":1.34,"TEE":-1.59},{"NORM":1.49,"TEE":-1.59},
  {"NORM":-0.78,"TEE":-1.72},{"NORM":-0.62,"TEE":-1.72},{"NORM":-0.46,"TEE":-1.72},{"NORM":-0.30,"TEE":-1.72},{"NORM":-0.14,"TEE":-1.72},{"NORM":0.02,"TEE":-1.72},{"NORM":0.18,"TEE":-1.72},{"NORM":0.34,"TEE":-1.72},{"NORM":0.50,"TEE":-1.72},{"NORM":0.66,"TEE":-1.72},{"NORM":0.82,"TEE":-1.72},{"NORM":0.98,"TEE":-1.72},{"NORM":1.14,"TEE":-1.72},{"NORM":1.30,"TEE":-1.72},{"NORM":1.40,"TEE":-1.72},
  {"NORM":-0.68,"TEE":-1.85},{"NORM":-0.52,"TEE":-1.85},{"NORM":-0.36,"TEE":-1.85},{"NORM":-0.20,"TEE":-1.85},{"NORM":-0.04,"TEE":-1.85},{"NORM":0.12,"TEE":-1.85},{"NORM":0.28,"TEE":-1.85},{"NORM":0.44,"TEE":-1.85},{"NORM":0.60,"TEE":-1.85},{"NORM":0.76,"TEE":-1.85},{"NORM":0.92,"TEE":-1.85},{"NORM":1.08,"TEE":-1.85},{"NORM":1.26,"TEE":-1.85},
  {"NORM":-0.54,"TEE":-1.98},{"NORM":-0.38,"TEE":-1.98},{"NORM":-0.22,"TEE":-1.98},{"NORM":-0.06,"TEE":-1.98},{"NORM":0.10,"TEE":-1.98},{"NORM":0.26,"TEE":-1.98},{"NORM":0.42,"TEE":-1.98},{"NORM":0.58,"TEE":-1.98},{"NORM":0.74,"TEE":-1.98},{"NORM":0.90,"TEE":-1.98},{"NORM":1.06,"TEE":-1.98},{"NORM":1.16,"TEE":-1.98},
  {"NORM":-0.40,"TEE":-2.11},{"NORM":-0.24,"TEE":-2.11},{"NORM":-0.08,"TEE":-2.11},{"NORM":0.08,"TEE":-2.11},{"NORM":0.24,"TEE":-2.11},{"NORM":0.40,"TEE":-2.11},{"NORM":0.56,"TEE":-2.11},{"NORM":0.72,"TEE":-2.11},{"NORM":0.88,"TEE":-2.11},{"NORM":1.00,"TEE":-2.11}
 ]
},
"concat": [
 {
  "width": 226, "height": 165,
  "title": {"text": "Histogram of RandomNormal"},
  "layer": [
   {"data": {"name": "hist"},
    "mark": {"type": "bar", "fill": "white", "stroke": "black", "strokeWidth": 1},
    "encoding": {
     "x": {"field": "bin_start", "type": "quantitative", "scale": {"domain": [-3.456, 3.456], "nice": false, "zero": false},
           "axis": {"values": [-3, -2, -1, 0, 1, 2, 3], "domain": false, "labelOverlap": false, "labelExpr": "'' + datum.value", "title": "RandomNormal"}},
     "x2": {"field": "bin_end"},
     "y": {"field": "density", "type": "quantitative", "scale": {"domain": [-0.0204, 0.529], "nice": false, "zero": false},
           "axis": {"values": [0, 0.1, 0.2, 0.3, 0.4, 0.5], "domain": false, "labelOverlap": false, "labelExpr": "datum.value == 0 ? '0.0' : datum.value == 0.2 ? '0.2' : datum.value == 0.4 ? '0.4' : ''", "title": "Density"}},
     "y2": {"datum": 0}
    }},
   {"data": {"name": "curve"},
    "mark": {"type": "line", "color": "#FF0000", "strokeWidth": 1.5, "interpolate": "monotone"},
    "encoding": {
     "x": {"field": "x", "type": "quantitative",
           "axis": {"values": [-3, -2, -1, 0, 1, 2, 3], "domain": false, "labelOverlap": false, "labelExpr": "'' + datum.value", "title": "RandomNormal"}},
     "y": {"field": "density", "type": "quantitative",
           "axis": {"values": [0, 0.1, 0.2, 0.3, 0.4, 0.5], "domain": false, "labelOverlap": false, "labelExpr": "datum.value == 0 ? '0.0' : datum.value == 0.2 ? '0.2' : datum.value == 0.4 ? '0.4' : ''", "title": "Density"}}
    }},
   {"data": {"values": [{}]},
    "mark": {"type": "rule", "color": "black", "strokeWidth": 1},
    "encoding": {
     "x": {"datum": -3, "type": "quantitative", "axis": {"values": [-3, -2, -1, 0, 1, 2, 3], "domain": false, "labelOverlap": false, "labelExpr": "'' + datum.value", "title": "RandomNormal"}},
     "x2": {"datum": 3},
     "y": {"datum": -0.0204, "type": "quantitative", "axis": {"values": [0, 0.1, 0.2, 0.3, 0.4, 0.5], "domain": false, "labelOverlap": false, "labelExpr": "datum.value == 0 ? '0.0' : datum.value == 0.2 ? '0.2' : datum.value == 0.4 ? '0.4' : ''", "title": "Density"}}
    }},
   {"data": {"values": [{}]},
    "mark": {"type": "rule", "color": "black", "strokeWidth": 1},
    "encoding": {
     "x": {"datum": -3.456, "type": "quantitative", "axis": {"values": [-3, -2, -1, 0, 1, 2, 3], "domain": false, "labelOverlap": false, "labelExpr": "'' + datum.value", "title": "RandomNormal"}},
     "y": {"datum": 0, "type": "quantitative", "axis": {"values": [0, 0.1, 0.2, 0.3, 0.4, 0.5], "domain": false, "labelOverlap": false, "labelExpr": "datum.value == 0 ? '0.0' : datum.value == 0.2 ? '0.2' : datum.value == 0.4 ? '0.4' : ''", "title": "Density"}},
     "y2": {"datum": 0.5}
    }}
  ]
 },
 {
  "width": 220, "height": 165,
  "data": {"name": "boxstats"},
  "encoding": {
   "x": {"field": "var", "type": "nominal", "scale": {"type": "point", "domain": ["NORM", "TEE", "CHI"], "padding": 0.565, "align": 0.549},
         "axis": {"domain": true, "title": null, "labelAngle": 0, "labelOverlap": false}}
  },
  "layer": [
   {"data": {"values": [{}]}, "mark": {"type": "rule", "color": "black", "strokeWidth": 1}, "encoding": {"x": null, "y": {"datum": 11.43}}},
   {"mark": {"type": "rule", "color": "black", "strokeDash": [4, 4]},
    "encoding": {"y": {"field": "q3", "type": "quantitative", "scale": {"domain": [-4.32, 11.43], "nice": false, "zero": false},
                       "axis": {"values": [0, 5, 10], "domain": true, "title": null, "labelOverlap": false}},
                 "y2": {"field": "upper"}}},
   {"mark": {"type": "rule", "color": "black", "strokeDash": [4, 4]},
    "encoding": {"y": {"field": "lower", "type": "quantitative"}, "y2": {"field": "q1"}}},
   {"mark": {"type": "tick", "orient": "horizontal", "size": 27, "thickness": 1, "color": "black", "opacity": 1},
    "encoding": {"y": {"field": "upper", "type": "quantitative"}}},
   {"mark": {"type": "tick", "orient": "horizontal", "size": 27, "thickness": 1, "color": "black", "opacity": 1},
    "encoding": {"y": {"field": "lower", "type": "quantitative"}}},
   {"mark": {"type": "bar", "size": 56, "fill": "white", "stroke": "black", "strokeWidth": 1},
    "encoding": {"y": {"field": "q1", "type": "quantitative"}, "y2": {"field": "q3"}}},
   {"mark": {"type": "tick", "orient": "horizontal", "size": 56, "thickness": 3, "color": "black", "opacity": 1},
    "encoding": {"y": {"field": "median", "type": "quantitative"}}},
   {"data": {"name": "outliers"},
    "mark": {"type": "point", "shape": "circle", "filled": false, "size": 52, "color": "black", "strokeWidth": 1.1, "opacity": 1},
    "encoding": {"y": {"field": "value", "type": "quantitative"}}}
  ]
 },
 {
  "width": 226, "height": 165,
  "title": {"text": "NORM and TEE plot"},
  "view": {"stroke": "black", "strokeWidth": 1},
  "data": {"name": "scatter"},
  "mark": {"type": "point", "shape": "circle", "filled": false, "size": 52, "color": "black", "strokeWidth": 1.1, "opacity": 1},
  "encoding": {
   "x": {"field": "NORM", "type": "quantitative", "scale": {"domain": [-3.53, 4.35], "nice": false, "zero": false},
         "axis": {"values": [-2, 0, 2, 4], "domain": false, "labelOverlap": false, "labelExpr": "'' + datum.value", "title": "NORM"}},
   "y": {"field": "TEE", "type": "quantitative", "scale": {"domain": [-4.31, 5.39], "nice": false, "zero": false},
         "axis": {"values": [-4, -2, 0, 2, 4], "domain": false, "labelOverlap": false, "labelExpr": "'' + datum.value", "title": "TEE"}}
  }
 },
 {
  "width": 220, "height": 165,
  "title": {"text": "NORM and TEE plot"},
  "data": {"name": "scatter"},
  "encoding": {
   "x": {"field": "NORM", "type": "quantitative", "scale": {"domain": [-3.53, 4.14], "nice": false, "zero": false},
         "axis": {"values": [-2, 0, 2, 4], "domain": true, "labelOverlap": false, "labelExpr": "'' + datum.value", "title": "NORM"}},
   "y": {"field": "TEE", "type": "quantitative", "scale": {"domain": [-4.31, 5.39], "nice": false, "zero": false},
         "axis": {"values": [-4, -2, 0, 2, 4], "domain": true, "labelOverlap": false, "labelExpr": "'' + datum.value", "title": "TEE"}}
  },
  "layer": [
   {"data": {"values": [{}]}, "mark": {"type": "rule", "color": "black", "strokeWidth": 1}, "encoding": {"x": null, "y": {"datum": 5.39}}},
   {"mark": {"type": "point", "shape": "circle", "filled": false, "size": 52, "color": "black", "strokeWidth": 1.1, "opacity": 1}},
   {"transform": [{"filter": "datum.TEE < datum.NORM * datum.NORM - 0.6"}],
    "mark": {"type": "point", "shape": "circle", "filled": false, "size": 52, "color": "#0022FF", "strokeWidth": 1.1, "opacity": 1}}
  ]
 }
]
}
